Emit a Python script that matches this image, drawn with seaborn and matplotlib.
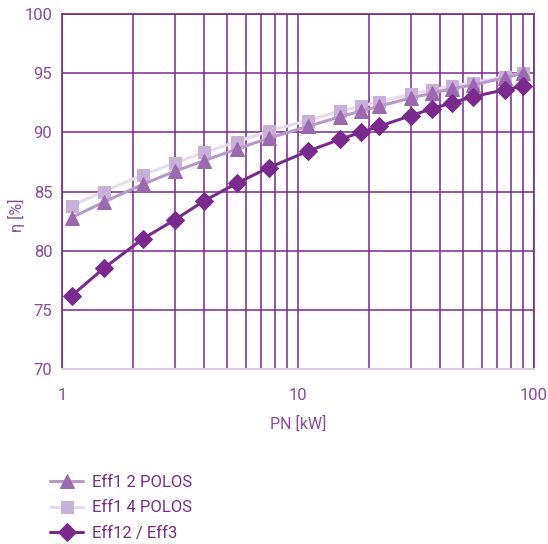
import matplotlib
matplotlib.use("Agg")
import matplotlib.pyplot as plt
import seaborn as sns
import pandas as pd
from matplotlib.ticker import LogLocator, NullFormatter

power_kw = [1.1, 1.5, 2.2, 3, 4, 5.5, 7.5, 11, 15, 18.5, 22, 30, 37, 45, 55, 75, 90]
eff1_2polos = [82.8, 84.1, 85.6, 86.7, 87.6, 88.6, 89.5, 90.5, 91.3, 91.8, 92.2, 92.9, 93.3, 93.7, 94.0, 94.6, 95.0]
eff1_4polos = [83.8, 85.0, 86.4, 87.4, 88.3, 89.2, 90.1, 91.0, 91.8, 92.2, 92.6, 93.2, 93.6, 93.9, 94.2, 94.7, 95.0]
eff2_eff3 = [76.2, 78.5, 81.0, 82.6, 84.2, 85.7, 87.0, 88.4, 89.4, 90.0, 90.5, 91.4, 92.0, 92.5, 93.0, 93.6, 93.9]
series_names = ["Eff1 2 POLOS", "Eff1 4 POLOS", "Eff12 / Eff3"]
y_ticks = [70, 75, 80, 85, 90, 95, 100]
x_ticks = [1, 10, 100]
x_ticklabels = ["1", "10", "100"]

sns.set_style("white")
plt.rcParams["font.family"] = ["Roboto", "DejaVu Sans"]

fig = plt.figure(figsize=(5.48, 5.44), dpi=100)
ax = fig.add_axes([62/548, 1-369/544, (534-62)/548, (369-14)/544])

grid_c = "#7a2a8e"
text_c = "#8a4a9e"

df = pd.DataFrame({"x": power_kw, "a": eff1_2polos, "b": eff1_4polos, "c": eff2_eff3})

sns.lineplot(data=df, x="x", y="b", ax=ax, color="#e6dcee", lw=2.2,
             marker="s", markersize=8, markerfacecolor="#c8b0d8",
             markeredgecolor="#c8b0d8", zorder=3)
sns.lineplot(data=df, x="x", y="a", ax=ax, color="#b899c8", lw=2.2,
             marker="^", markersize=10, markerfacecolor="#9c68b0",
             markeredgecolor="#9c68b0", zorder=4)
sns.lineplot(data=df, x="x", y="c", ax=ax, color="#7a2a8c", lw=2.2,
             marker="D", markersize=9, markerfacecolor="#7a2a8c",
             markeredgecolor="#7a2a8c", zorder=5)

ax.set_xscale("log")
ax.set_xlim(1, 100)
ax.set_ylim(70, 100)
ax.set_yticks(y_ticks)
ax.set_xticks(x_ticks)
ax.set_xticklabels(x_ticklabels)
ax.xaxis.set_minor_locator(LogLocator(base=10, subs=range(2, 10)))
ax.xaxis.set_minor_formatter(NullFormatter())
ax.grid(True, which="both", axis="x", color=grid_c, lw=1.1)
ax.grid(True, which="major", axis="y", color=grid_c, lw=1.1)
ax.tick_params(axis="both", which="both", length=0, colors=text_c, labelsize=12)
ax.tick_params(axis="x", pad=14)
ax.tick_params(axis="y", pad=7)
for s in ["left", "top", "right"]:
    ax.spines[s].set_color(grid_c)
    ax.spines[s].set_linewidth(1.2)
ax.spines["bottom"].set_color("#d8cce6")
ax.spines["bottom"].set_linewidth(1.5)

ax.set_xlabel("PN [kW]", color=text_c, fontsize=11.5, labelpad=9)
ax.set_ylabel("η [%]", color=text_c, fontsize=11.5)
ax.yaxis.set_label_coords(-0.078, 0.434)

lines = ax.get_lines()
handles = [lines[1], lines[0], lines[2]]
leg = fig.legend(handles, series_names, loc="upper left", bbox_to_anchor=(0.079, 0.139),
                 frameon=False, fontsize=12, handlelength=2.0, labelspacing=0.62,
                 handletextpad=0.55, borderaxespad=0)
for t in leg.get_texts():
    t.set_color("#7a2a8c")

fig.savefig("out.png", dpi=100)
